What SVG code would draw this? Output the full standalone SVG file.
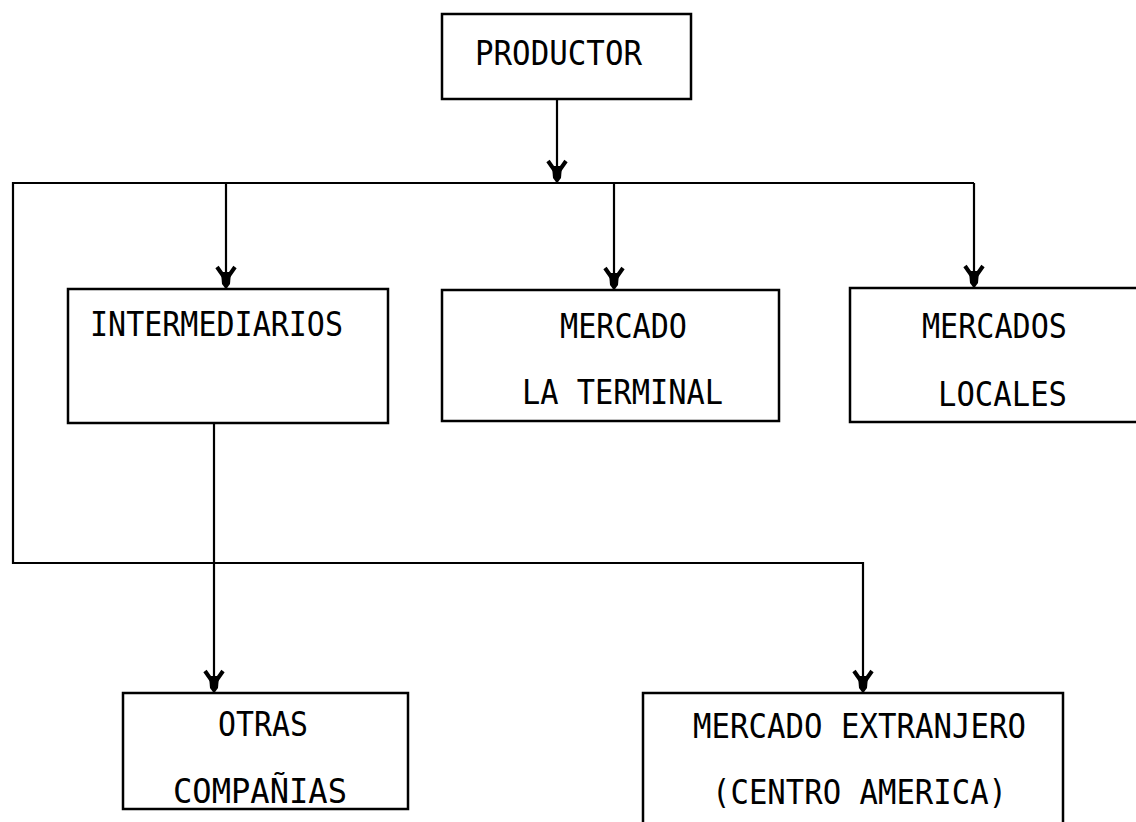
<svg xmlns="http://www.w3.org/2000/svg" width="1136" height="822" viewBox="0 0 1136 822">
<style>
.box{fill:none;stroke:#000;stroke-width:2.5}
.ln{fill:none;stroke:#000;stroke-width:2.2}
.t{font-family:"DejaVu Sans Mono","Liberation Mono",monospace;font-size:34px;fill:#000}
</style>
<defs>
<marker id="ah" markerUnits="userSpaceOnUse" markerWidth="26" markerHeight="22" viewBox="-24 -11 26 22" refX="0" refY="0" orient="auto">
<path d="M-21,-9 L-11,-2 M-21,9 L-11,2" stroke="#000" stroke-width="4" fill="none"/>
<path d="M-16,-5 L-16,5 L-4,4 L0,1 L0,-1 L-4,-4 Z" fill="#000"/>
</marker>
</defs>
<rect width="1136" height="822" fill="#fff"/>
<g id="connectors">
<path class="ln" d="M557,99 V182" marker-end="url(#ah)"/>
<path class="ln" d="M974,183 H13 V563 H863 V692" marker-end="url(#ah)"/>
<path class="ln" d="M226,183 V288" marker-end="url(#ah)"/>
<path class="ln" d="M614,183 V289" marker-end="url(#ah)"/>
<path class="ln" d="M974,183 V287" marker-end="url(#ah)"/>
<path class="ln" d="M214,423 V692" marker-end="url(#ah)"/>
</g>
<g id="productor">
<rect class="box" x="442" y="14" width="249" height="85"/>
<text class="t" x="475" y="65" textLength="167" lengthAdjust="spacingAndGlyphs">PRODUCTOR</text>
</g>
<g id="intermediarios">
<rect class="box" x="68" y="289" width="320" height="134"/>
<text class="t" x="90" y="336" textLength="253" lengthAdjust="spacingAndGlyphs">INTERMEDIARIOS</text>
</g>
<g id="mercado-terminal">
<rect class="box" x="442" y="290" width="337" height="131"/>
<text class="t" x="560" y="338" textLength="127" lengthAdjust="spacingAndGlyphs">MERCADO</text>
<text class="t" x="522" y="404" textLength="201" lengthAdjust="spacingAndGlyphs">LA TERMINAL</text>
</g>
<g id="mercados-locales">
<rect class="box" x="850" y="288" width="300" height="134"/>
<text class="t" x="922" y="338" textLength="145" lengthAdjust="spacingAndGlyphs">MERCADOS</text>
<text class="t" x="938" y="406" textLength="129" lengthAdjust="spacingAndGlyphs">LOCALES</text>
</g>
<g id="otras-companias">
<rect class="box" x="123" y="693" width="285" height="116"/>
<text class="t" x="218" y="736" textLength="90" lengthAdjust="spacingAndGlyphs">OTRAS</text>
<text class="t" x="173" y="803" textLength="174" lengthAdjust="spacingAndGlyphs">COMPAÑIAS</text>
</g>
<g id="mercado-extranjero">
<rect class="box" x="643" y="693" width="420" height="150"/>
<text class="t" x="693" y="738" textLength="333" lengthAdjust="spacingAndGlyphs">MERCADO EXTRANJERO</text>
<text class="t" x="712" y="804" textLength="295" lengthAdjust="spacingAndGlyphs">(CENTRO AMERICA)</text>
</g>
</svg>
